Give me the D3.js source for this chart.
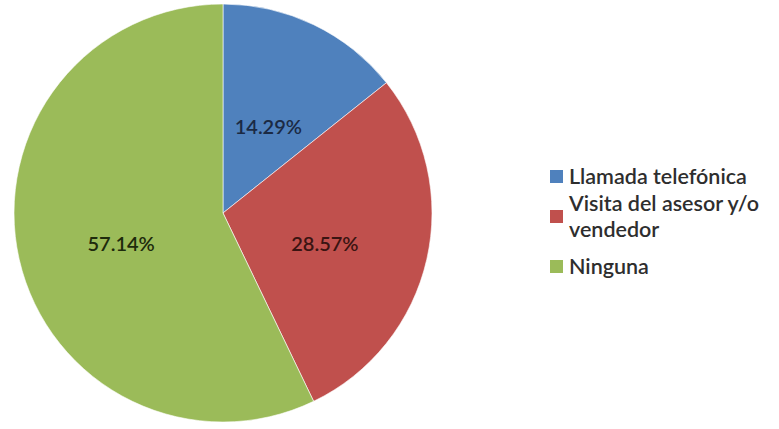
<!DOCTYPE html>
<html>
<head>
<meta charset="utf-8">
<script src="https://cdn.jsdelivr.net/npm/d3@7/dist/d3.min.js"></script>
<style>
  html, body { margin: 0; padding: 0; background: #ffffff; }
  svg { display: block; }
</style>
</head>
<body>
<svg id="chart" width="779" height="429"></svg>
<script>
// Contact channels and their share of responses (%)
const categories = ["Llamada telefónica", "Visita del asesor y/o vendedor", "Ninguna"];
const legendLines = [["Llamada telefónica"], ["Visita del asesor y/o", "vendedor"], ["Ninguna"]];
const values = [14.29, 28.57, 57.14];
const valueLabels = ["14.29%", "28.57%", "57.14%"];
const colors = ["#4F81BD", "#C0504D", "#9BBB59"];

const svg = d3.select("#chart");
const cx = 223, cy = 213, radius = 209;
const font = "Lato, 'Open Sans', sans-serif";

const color = d3.scaleOrdinal().domain(categories).range(colors);

const pie = d3.pie().sort(null).value(d => d.value);
const arcs = pie(categories.map((c, i) => ({ name: c, value: values[i], label: valueLabels[i] })));
const arc = d3.arc().innerRadius(0).outerRadius(radius);

const g = svg.append("g").attr("transform", `translate(${cx},${cy})`);

g.selectAll("path.slice")
  .data(arcs)
  .join("path")
  .attr("class", "slice")
  .attr("d", arc)
  .attr("fill", d => color(d.data.name))
  .attr("stroke", "#ffffff")
  .attr("stroke-width", 0.6);

// Percentage labels sit just below each slice centroid
const labelColors = ["#1b2a44", "#3a1412", "#1e2a0c"];
g.selectAll("text.val")
  .data(arcs)
  .join("text")
  .attr("class", "val")
  .attr("transform", d => {
    const [x, y] = arc.centroid(d);
    return `translate(${x},${y + 7})`;
  })
  .attr("text-anchor", "middle")
  .attr("dominant-baseline", "central")
  .attr("font-family", font)
  .attr("font-weight", 600)
  .attr("font-size", 20)
  .attr("fill", (d, i) => labelColors[i])
  .text(d => d.data.label);

// Legend
const legend = svg.append("g").attr("transform", "translate(550,0)");
const lineH = 26;
const entryY = [176, 216, 266];
categories.forEach((c, i) => {
  const lines = legendLines[i];
  const top = entryY[i] - (lines.length - 1) * lineH / 2;
  legend.append("rect")
    .attr("x", 0).attr("y", entryY[i] - 6)
    .attr("width", 13).attr("height", 13)
    .attr("fill", color(c));
  const t = legend.append("text")
    .attr("font-family", font)
    .attr("font-weight", 600)
    .attr("font-size", 21.5)
    .attr("fill", "#2e2e2e");
  lines.forEach((ln, j) => {
    t.append("tspan")
      .attr("x", 19)
      .attr("y", top + j * lineH)
      .attr("dominant-baseline", "central")
      .text(ln);
  });
});
</script>
</body>
</html>
